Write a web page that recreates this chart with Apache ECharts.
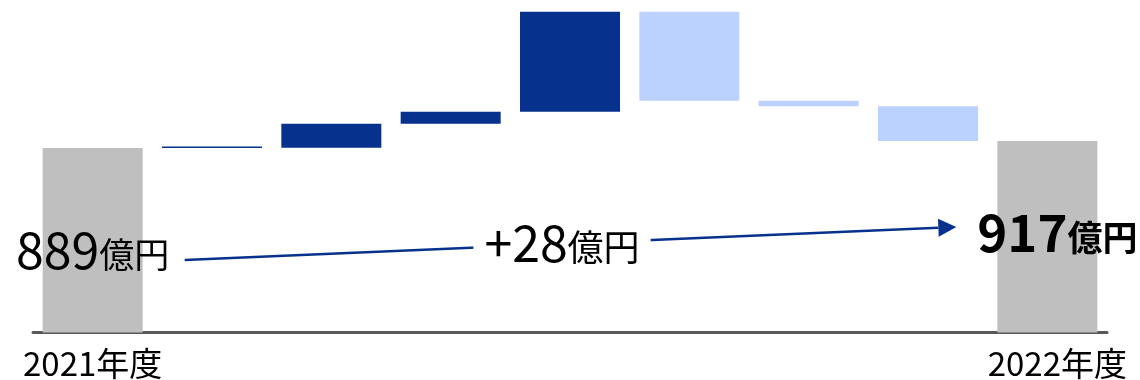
<!DOCTYPE html>
<html>
<head>
<meta charset="utf-8">
<script src="https://cdn.jsdelivr.net/npm/echarts@6/dist/echarts.min.js"></script>
<style>
    html, body { margin: 0; padding: 0; background: #fff; }
    #chart { width: 1140px; height: 380px; }
</style>
</head>
<body>
<div id="chart"></div>
<script>
// data
var categories = ['2021年度', '', '', '', '', '', '', '', '2022年度'];
var startValue = 889;
var changes = [1, 96, 48, 400, -356, -22, -139];
var endValue = 917;
var diffText = '+28';
var unitText = '億円';

var dark = '#06318c';
var light = '#bcd2fe';
var grey = '#bfbfbf';

// build stacked waterfall pieces
var base = ['-'], up = ['-'], down = ['-'], total = [];
var running = startValue;
changes.forEach(function (c) {
    if (c >= 0) {
        base.push(running); up.push(c); down.push('-');
        running += c;
    } else {
        running += c;
        base.push(running); up.push('-'); down.push(-c);
    }
});
base.push('-'); up.push('-'); down.push('-');

total.push({
    value: startValue,
    label: {
        show: true,
        position: 'inside',
        offset: [0, 10],
        formatter: '{n|' + startValue + '}{u|' + unitText + '}',
        rich: {
            n: { fontSize: 50, color: '#000', fontFamily: 'Noto Sans CJK JP', verticalAlign: 'bottom' },
            u: { fontSize: 35, color: '#000', fontFamily: 'Noto Sans CJK JP', verticalAlign: 'bottom', padding: [0, 0, 3, 0] }
        }
    }
});
for (var i = 0; i < changes.length; i++) total.push('-');
total.push({
    value: endValue,
    label: {
        show: true,
        position: 'inside',
        offset: [10, -4],
        formatter: '{n|' + endValue + '}{u|' + unitText + '}',
        rich: {
            n: { fontSize: 51, fontWeight: 'bold', color: '#000', fontFamily: 'Noto Sans CJK JP', verticalAlign: 'bottom' },
            u: { fontSize: 35, fontWeight: 'bold', color: '#000', fontFamily: 'Noto Sans CJK JP', verticalAlign: 'bottom', padding: [0, 0, 3, 0] }
        }
    }
});

var xData = categories.map(function (c, idx) {
    if (idx === categories.length - 1) {
        return { value: c, textStyle: { padding: [0, 0, 0, 20] } };
    }
    return c;
});

var chart = echarts.init(document.getElementById('chart'));
var option = {
    animation: false,
    grid: { left: 33, right: 33, top: 11, bottom: 47.5, containLabel: false },
    xAxis: {
        type: 'category',
        data: xData,
        axisLine: { lineStyle: { color: '#595959', width: 3 } },
        axisTick: { show: false },
        axisLabel: {
            interval: 0,
            margin: 14,
            fontSize: 33,
            color: '#000',
            fontFamily: 'Noto Sans CJK JP'
        }
    },
    yAxis: {
        type: 'value',
        min: 151,
        max: 1437,
        show: false,
        splitLine: { show: false }
    },
    series: [{
        name: 'base',
        type: 'bar',
        stack: 'wf',
        barWidth: 100,
        itemStyle: { color: 'transparent' },
        data: base
    }, {
        name: 'up',
        type: 'bar',
        stack: 'wf',
        barWidth: 100,
        barMinHeight: 1.5,
        itemStyle: { color: dark },
        data: up
    }, {
        name: 'down',
        type: 'bar',
        stack: 'wf',
        barWidth: 100,
        itemStyle: { color: light },
        data: down
    }, {
        name: 'total',
        type: 'bar',
        stack: 'wf',
        barWidth: 100,
        itemStyle: { color: grey },
        data: total
    }]
};
chart.setOption(option);

// arrow annotation from first total to last total
var p0 = chart.convertToPixel({ xAxisIndex: 0, yAxisIndex: 0 }, [0, startValue]);
var p1 = chart.convertToPixel({ xAxisIndex: 0, yAxisIndex: 0 }, [categories.length - 1, endValue]);
var pm = chart.convertToPixel({ xAxisIndex: 0, yAxisIndex: 0 }, [4, startValue]);
var x1 = p0[0] + 92, y1 = 260;
var tx = p1[0] - 91, ty = 227;
var dx = tx - x1, dy = ty - y1, len = Math.sqrt(dx * dx + dy * dy);
var ux = dx / len, uy = dy / len;
var headLen = 18, headW = 9;
var bx = tx - ux * headLen, by = ty - uy * headLen;
var midX = pm[0] - 8;
var midY = y1 + (midX - x1) * dy / dx;

chart.setOption({
    graphic: [{
        type: 'line',
        shape: { x1: x1, y1: y1, x2: bx, y2: by },
        style: { stroke: dark, lineWidth: 2.5 }
    }, {
        type: 'polygon',
        shape: { points: [[tx, ty], [bx - uy * headW, by + ux * headW], [bx + uy * headW, by - ux * headW]] },
        style: { fill: dark }
    }, {
        type: 'text',
        x: midX,
        y: midY - 1,
        style: {
            text: '{n|' + diffText + '}{u|' + unitText + '}',
            align: 'center',
            verticalAlign: 'middle',
            backgroundColor: '#fff',
            padding: [0, 11],
            rich: {
                n: { fontSize: 50, fill: '#000', fontFamily: 'Noto Sans CJK JP', verticalAlign: 'bottom' },
                u: { fontSize: 36, fill: '#000', fontFamily: 'Noto Sans CJK JP', verticalAlign: 'bottom', padding: [0, 0, 3, 0] }
            }
        }
    }]
});
</script>
</body>
</html>
